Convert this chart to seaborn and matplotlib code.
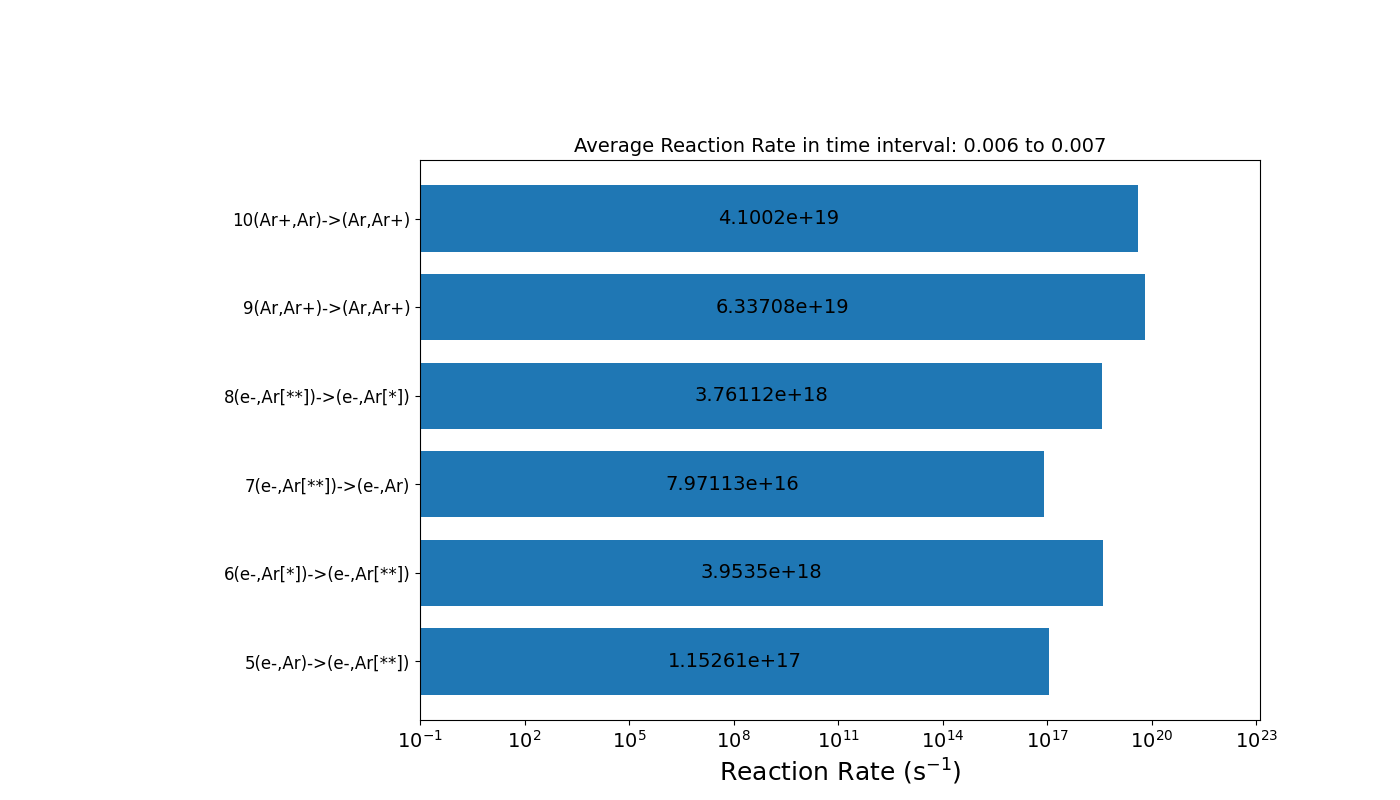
import numpy as np
import pandas as pd
import matplotlib
matplotlib.use("Agg")
import matplotlib.pyplot as plt
import seaborn as sns

# Données : réactions (du haut vers le bas) et taux moyens
reactions = ["10(Ar+,Ar)->(Ar,Ar+)", "9(Ar,Ar+)->(Ar,Ar+)", "8(e-,Ar[**])->(e-,Ar[*])",
             "7(e-,Ar[**])->(e-,Ar)", "6(e-,Ar[*])->(e-,Ar[**])", "5(e-,Ar)->(e-,Ar[**])"]
rates = [4.1002e+19, 6.33708e+19, 3.76112e+18, 7.97113e+16, 3.9535e+18, 1.15261e+17]

df = pd.DataFrame({"reaction": reactions, "rate": rates})

fig = plt.figure(figsize=(14, 8), dpi=100)
ax = fig.add_axes([0.3, 0.1, 0.6, 0.7])

sns.barplot(data=df, x="rate", y="reaction", order=reactions, orient="h",
            color="#1f77b4", saturation=1, width=0.75, ax=ax)
ax.set_xscale("log")
ax.set_xlim(0.1, 10**23.11)
ax.set_ylim(5.6625, -0.6625)

# Valeurs au milieu (log) de chaque barre
for i, v in enumerate(rates):
    ax.text(np.sqrt(0.1 * v), i, f"{v:g}", ha="center", va="center", fontsize=14)

ax.set_xticks([10.0**k for k in range(-1, 24, 3)])
ax.tick_params(axis="x", labelsize=14)
ax.tick_params(axis="y", labelsize=12)
ax.set_ylabel("")
ax.set_xlabel("Reaction Rate (s$^{-1}$)", fontsize=18)
ax.set_title("Average Reaction Rate in time interval: 0.006 to 0.007", fontsize=14)

fig.savefig("out.png", dpi=100)
